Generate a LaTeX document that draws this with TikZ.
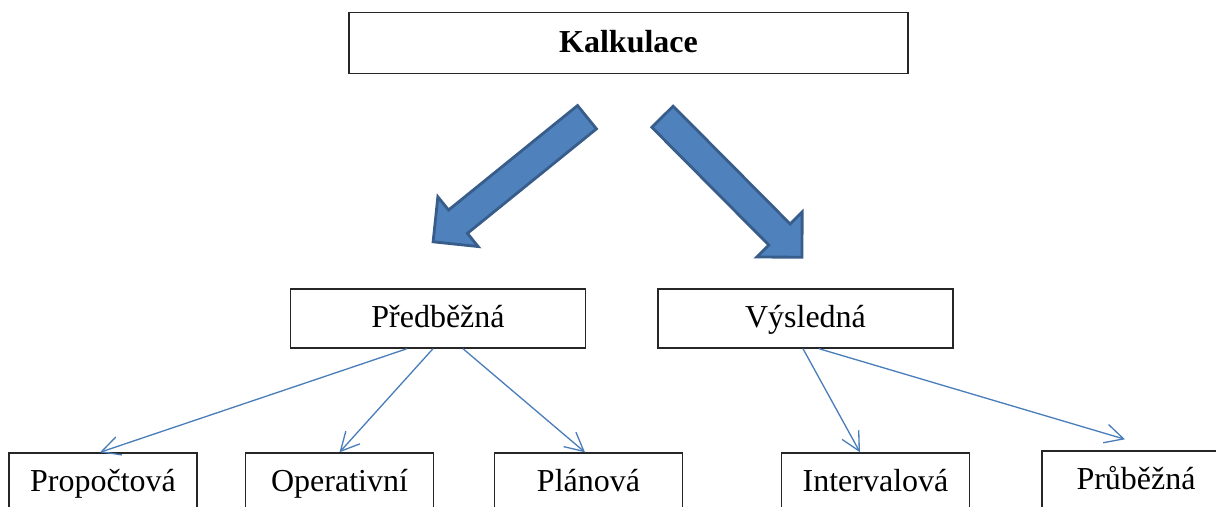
\documentclass[tikz,border=0pt]{standalone}
\usepackage{fontspec}
\setmainfont{Liberation Serif}
\usetikzlibrary{arrows.meta, positioning, calc}

\definecolor{arrfill}{HTML}{4F81BD}
\definecolor{arrline}{HTML}{385D8A}
\definecolor{linkblue}{HTML}{4A7EBB}

\begin{document}
\begin{tikzpicture}[box/.style={draw=black!85, line width=0.8pt, align=center, inner sep=0pt, minimum height=1.18cm, minimum width=3.76cm, text height=0.5cm, text depth=0.14cm, font=\fontsize{18.2}{22}\selectfont},
                    mid/.style={box, minimum width=5.9cm},
                    top/.style={box, minimum width=11.18cm, minimum height=1.22cm, text height=0.5cm, font=\fontsize{18.2}{22}\selectfont\bfseries},
                    bigarrow/.style={fill=arrfill, draw=arrline, line width=1.6pt, line join=miter},
                    link/.style={draw=linkblue, line width=0.75pt, -{Straight Barb[length=3.7mm, width=3.8mm]}}]
    \useasboundingbox (0,0) rectangle (24.32,-10.12);
    \clip (0,0) rectangle (24.32,-10.12);
    \node[top] (kalk) at (12.57,-0.86) {Kalkulace};
    \node[mid] (pred) at (8.76,-6.37) {Předběžná};
    \node[mid] (vysl) at (16.11,-6.37) {Výsledná};
    \node[box] (prop)   at (2.06,-9.65)  {Propočtová};
    \node[box] (oper)   at (6.79,-9.65)  {Operativní};
    \node[box] (plan)   at (11.77,-9.65) {Plánová};
    \node[box] (interv) at (17.51,-9.65) {Intervalová};
    \node[box] (prub)   at (22.72,-9.61) {Průběžná};
    % block arrows under the title
    \coordinate (ltail) at ($(kalk.south)+(-0.83,-0.86)$);
    \coordinate (rtail) at ($(kalk.south)+(0.68,-0.85)$);
    \draw[bigarrow, shift={(ltail)}, rotate=219] (0,-0.3) -- (3.32,-0.3) -- (3.32,-0.64) -- (3.96,0) -- (3.32,0.64) -- (3.32,0.3) -- (0,0.3) -- cycle;
    \draw[bigarrow, shift={(rtail)}, rotate=-45.2] (0,-0.3) -- (3.32,-0.3) -- (3.32,-0.64) -- (3.96,0) -- (3.32,0.64) -- (3.32,0.3) -- (0,0.3) -- cycle;
    % thin links
    \draw[link] ([xshift=-0.62cm]pred.south) -- ([xshift=-0.06cm]prop.north);
    \draw[link] ([xshift=-0.1cm]pred.south) -- (oper.north);
    \draw[link] ([xshift=0.5cm]pred.south) -- ([xshift=-0.07cm]plan.north);
    \draw[link] ([xshift=-0.05cm]vysl.south) -- ([xshift=-0.31cm]interv.north);
    \draw[link] ([xshift=0.27cm]vysl.south) -- ([xshift=-0.22cm, yshift=0.22cm]prub.north);
\end{tikzpicture}
\end{document}
